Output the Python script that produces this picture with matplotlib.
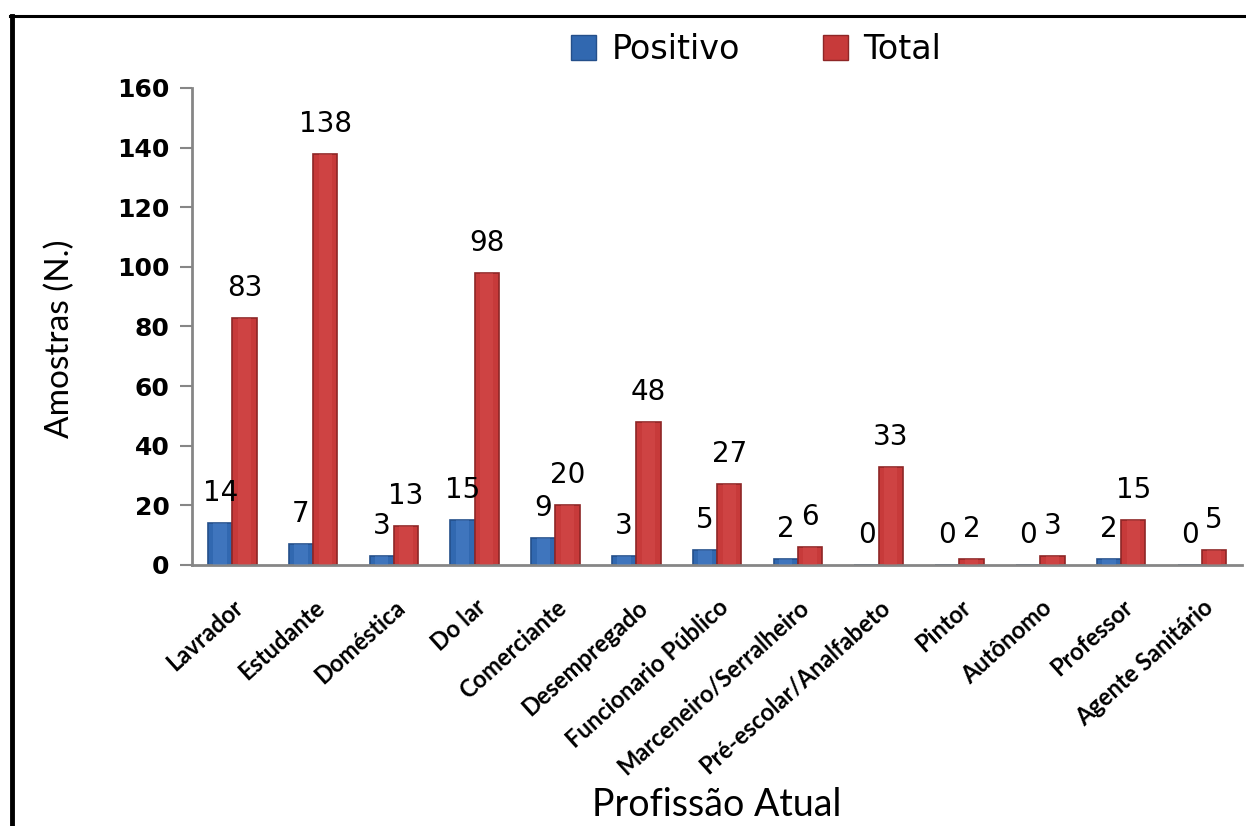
import numpy as np
import matplotlib
matplotlib.use("Agg")
import matplotlib.pyplot as plt
from matplotlib.lines import Line2D

# Amostras por profissão
profissoes = ["Lavrador", "Estudante", "Doméstica", "Do lar", "Comerciante",
              "Desempregado", "Funcionario Público", "Marceneiro/Serralheiro",
              "Pré-escolar/Analfabeto", "Pintor", "Autônomo", "Professor",
              "Agente Sanitário"]
positivo = [14, 7, 3, 15, 9, 3, 5, 2, 0, 0, 0, 2, 0]
total = [83, 138, 13, 98, 20, 48, 27, 6, 33, 2, 3, 15, 5]
y_ticks = [0, 20, 40, 60, 80, 100, 120, 140, 160]

BLUE = "#3168b0"
BLUE_EDGE = "#244f8a"
BLUE_HI = "#5b8fd6"
RED = "#c73a3a"
RED_EDGE = "#8e2626"
RED_HI = "#dd5555"

fig = plt.figure(figsize=(12.46, 8.26), dpi=100)
fig.patch.set_facecolor("white")
ax = fig.add_axes([0.154, 0.316, 0.843, 0.5775])

x = np.arange(len(profissoes))
w = 0.30

b1 = ax.bar(x - w / 2, positivo, w, color=BLUE, edgecolor=BLUE_EDGE,
            linewidth=1.2, label="Positivo", zorder=2)
b2 = ax.bar(x + w / 2, total, w, color=RED, edgecolor=RED_EDGE,
            linewidth=1.2, label="Total", zorder=2)
# lighter centre strip for a bevelled look
ax.bar(x - w / 2, positivo, w * 0.55, color=BLUE_HI, alpha=0.35,
       linewidth=0, zorder=3)
ax.bar(x + w / 2, total, w * 0.55, color=RED_HI, alpha=0.35,
       linewidth=0, zorder=3)

for rect, v in zip(b1, positivo):
    ax.annotate(str(v), (rect.get_x() + rect.get_width() / 2, v),
                xytext=(0, 30), textcoords="offset pixels",
                ha="center", va="center", fontsize=20, color="black")
for rect, v in zip(b2, total):
    ax.annotate(str(v), (rect.get_x() + rect.get_width() / 2, v),
                xytext=(0, 30), textcoords="offset pixels",
                ha="center", va="center", fontsize=20, color="black")

ax.set_xlim(-0.5, len(profissoes) - 0.5)
ax.set_ylim(0, 160)
ax.set_yticks(y_ticks)
ax.set_yticklabels([str(t) for t in y_ticks], fontsize=18,
                   fontweight="bold")
ax.set_xticks(x)
ax.set_xticklabels(profissoes, rotation=42, ha="right",
                   rotation_mode="anchor", fontsize=17,
                   fontweight="bold", family="Lato")
ax.tick_params(axis="x", length=0, pad=22)
ax.tick_params(axis="y", length=9, width=1.5, color="#868686", pad=7)

for side in ["top", "right"]:
    ax.spines[side].set_visible(False)
for side in ["left", "bottom"]:
    ax.spines[side].set_color("#868686")
    ax.spines[side].set_linewidth(2)

fig.text(0.048, 0.59, "Amostras (N.)", rotation=90, ha="center",
         va="center", fontsize=24, family="Lato")
fig.text(0.575, 0.026, "Profissão Atual", ha="center", va="center",
         fontsize=27, family="Lato")

handles = [plt.Rectangle((0, 0), 1, 1, facecolor=BLUE, edgecolor=BLUE_EDGE),
           plt.Rectangle((0, 0), 1, 1, facecolor=RED, edgecolor=RED_EDGE)]
fig.legend(handles, ["Positivo", "Total"], loc="center",
           bbox_to_anchor=(0.607, 0.94), ncol=2, frameon=False,
           fontsize=24, handlelength=0.75, handleheight=0.75,
           handletextpad=0.45, columnspacing=2.5)

# outer frame: heavy left edge, thin top edge
fig.add_artist(Line2D([0.0097, 0.0097], [0, 0.981], color="black",
                      linewidth=3.5, transform=fig.transFigure))
fig.add_artist(Line2D([0.008, 1.0], [0.981, 0.981], color="black",
                      linewidth=2.2, transform=fig.transFigure))

fig.savefig("out.png", dpi=100, facecolor="white")
